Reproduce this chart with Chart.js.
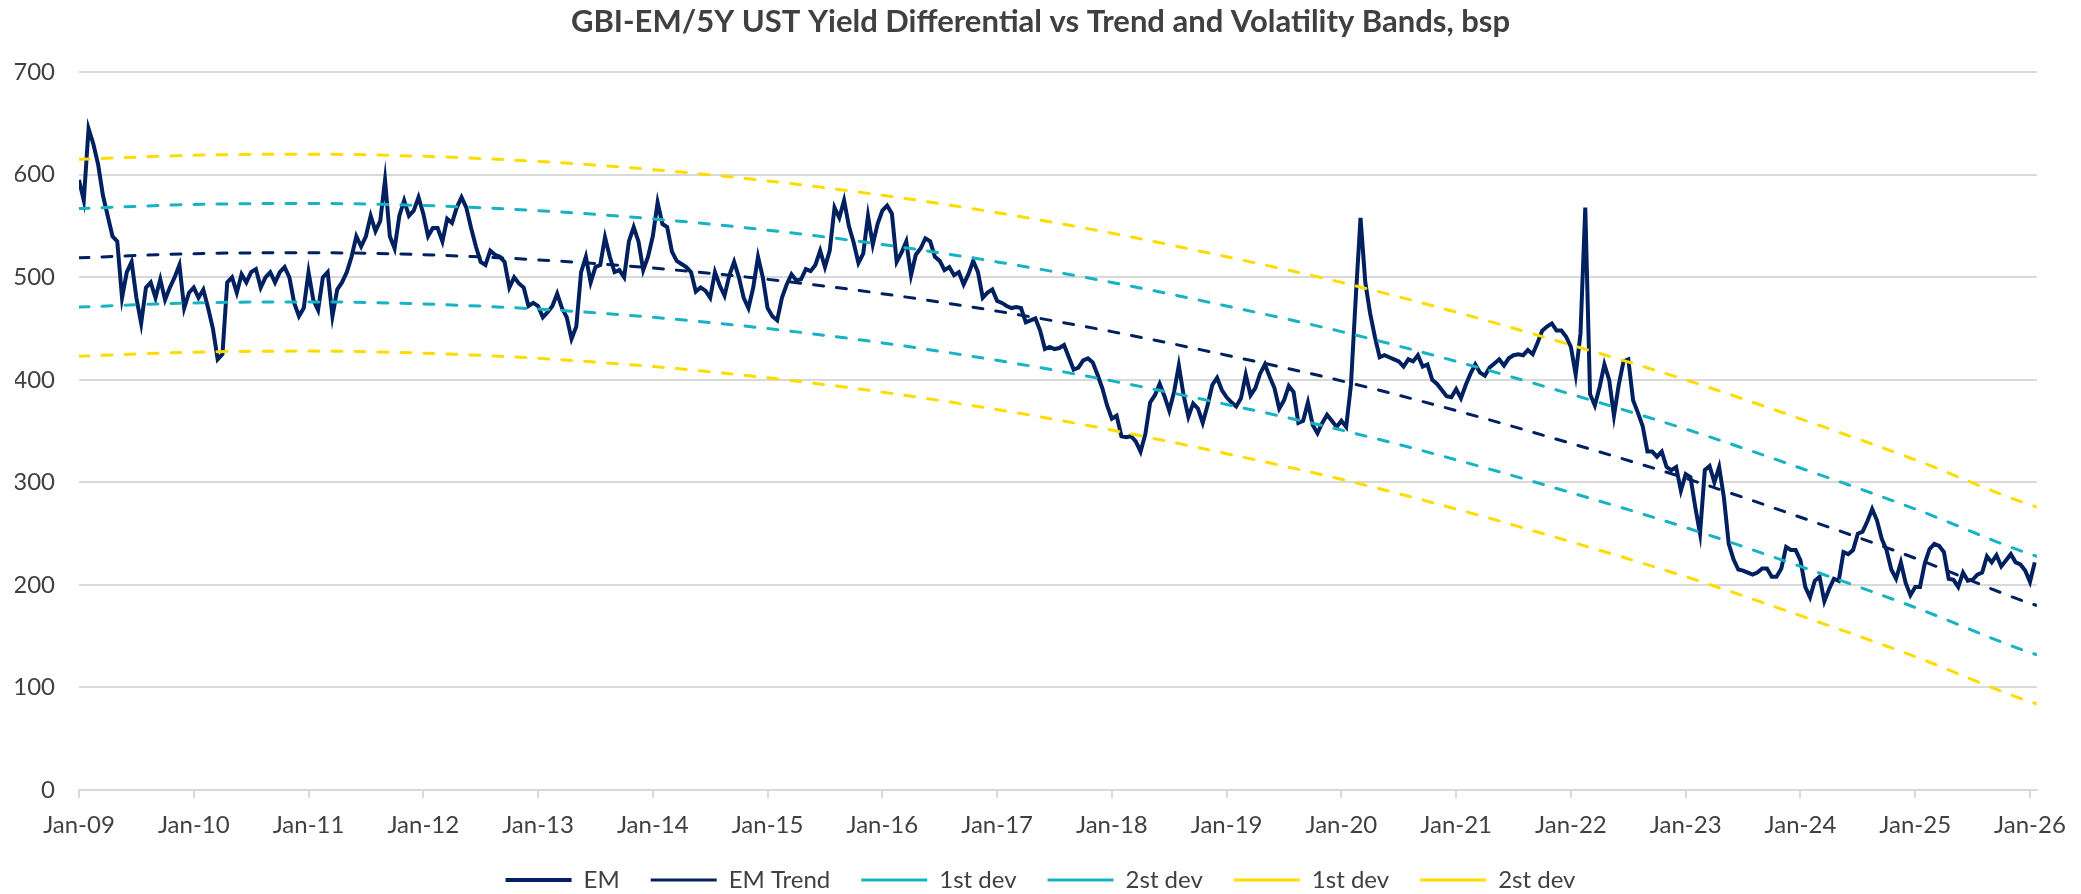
<!DOCTYPE html>
<html>
<head>
<meta charset="utf-8">
<title>GBI-EM/5Y UST Yield Differential</title>
<script src="https://cdn.jsdelivr.net/npm/chart.js@4.4.1/dist/chart.umd.min.js"></script>
<style>
  html, body { margin: 0; padding: 0; background: #ffffff; }
  #wrap { width: 2081px; height: 894px; }
</style>
</head>
<body>
<div id="wrap"><canvas id="grafico"></canvas></div>
<script>
// EM spread in bsp, one reading every half month starting Jan-09
const emStart = 2009;
const emValues = [
  595, 575, 645, 630, 610, 580, 560, 540, 535, 480, 505, 515, 480, 455, 490, 495, 480, 498, 478, 490, 500, 512, 470, 485,
  490, 480, 488, 470, 450, 420, 425, 495, 500, 485, 503, 495, 505, 508, 490, 500, 505, 495, 505, 510, 500, 475, 462, 470,
  505, 478, 468, 500, 505, 462, 488, 495, 505, 520, 540, 530, 540, 560, 545, 555, 595, 540, 528, 560, 575, 560, 565, 578,
  562, 540, 548, 548, 535, 557, 553, 568, 578, 568, 548, 530, 515, 512, 526, 522, 520, 515, 490, 500, 494, 490, 472, 475,
  472, 461, 466, 472, 484, 470, 461, 440, 452, 505, 520, 495, 510, 512, 539, 520, 505, 507, 500, 535, 549, 535, 507, 520,
  540, 573, 552, 549, 525, 516, 513, 510, 505, 486, 490, 487, 480, 505, 492, 482, 502, 515, 500, 480, 470, 490, 520, 500,
  470, 462, 458, 480, 493, 503, 497, 498, 508, 506, 512, 526, 510, 526, 568, 558, 575, 550, 534, 514, 523, 560, 532, 552,
  565, 570, 562, 515, 524, 535, 502, 522, 528, 538, 535, 520, 516, 507, 510, 502, 505, 493, 503, 516, 505, 480, 485, 488,
  477, 475, 472, 470, 471, 470, 456, 458, 460, 448, 430, 432, 430, 431, 434, 422, 410, 412, 419, 421, 417, 405, 392, 375,
  362, 365, 345, 344, 345, 340, 330, 347, 378, 385, 396, 384, 370, 388, 414, 385, 364, 377, 372, 358, 375, 395, 402, 390,
  383, 378, 374, 382, 405, 385, 392, 406, 415, 403, 392, 372, 380, 394, 388, 358, 360, 378, 356, 348, 358, 366, 360, 354,
  360, 354, 395, 480, 558, 495, 465, 442, 422, 424, 422, 420, 418, 413, 420, 418, 424, 413, 415, 400, 396, 390, 384, 383,
  391, 382, 395, 406, 415, 407, 404, 412, 416, 420, 414, 421, 424, 425, 424, 429, 425, 436, 448, 452, 455, 448, 448, 442,
  432, 405, 445, 568, 386, 375, 393, 415, 400, 365, 395, 418, 420, 380, 368, 355, 330, 330, 325, 330, 315, 312, 315, 292,
  308, 305, 276, 250, 312, 316, 300, 315, 285, 240, 225, 215, 214, 212, 210, 212, 216, 216, 208, 208, 216, 237, 234, 234,
  224, 198, 188, 204, 208, 184, 196, 206, 204, 232, 230, 234, 250, 252, 262, 274, 263, 245, 234, 215, 206, 222, 202, 190,
  198, 198, 221, 235, 240, 238, 232, 206, 205, 198, 212, 204, 205, 210, 212, 228, 222, 229, 218, 224, 230, 222, 220, 214,
  203, 222
];

// trend and bands, read at each January (last point = right edge)
const bandYears  = [2009, 2010, 2011, 2012, 2013, 2014, 2015, 2016, 2017, 2018, 2019, 2020, 2021, 2022, 2023, 2024, 2025, 2026, 2026.06];
const emTrend    = [519, 523, 524, 522, 517, 509, 498, 484, 467, 447, 424, 399, 370, 338, 304, 266, 226, 182, 180];
const tealUpper  = [567, 571, 572, 570, 565, 557, 546, 532, 515, 495, 472, 447, 418, 386, 352, 314, 274, 230, 228];
const tealLower  = [471, 475, 476, 474, 469, 461, 450, 436, 419, 399, 376, 351, 322, 290, 256, 218, 178, 134, 132];
const yellowUpper = [615, 619, 620, 618, 613, 605, 594, 580, 563, 543, 520, 495, 466, 434, 400, 362, 322, 278, 276];
const yellowLower = [423, 427, 428, 426, 421, 413, 402, 388, 371, 351, 328, 303, 274, 242, 208, 170, 130, 86, 84];

const tickYears  = [2009, 2010, 2011, 2012, 2013, 2014, 2015, 2016, 2017, 2018, 2019, 2020, 2021, 2022, 2023, 2024, 2025, 2026];
const tickLabels = ["Jan-09", "Jan-10", "Jan-11", "Jan-12", "Jan-13", "Jan-14", "Jan-15", "Jan-16", "Jan-17",
                    "Jan-18", "Jan-19", "Jan-20", "Jan-21", "Jan-22", "Jan-23", "Jan-24", "Jan-25", "Jan-26"];

const navy = "#002060";
const teal = "#19B2C4";
const yellow = "#FFDC00";
const grey = "#404040";
const dash = [10, 13];

function puntos(xs, ys) {
    return ys.map((v, i) => ({ x: xs[i], y: v }));
}

const emPuntos = emValues.map((v, i) => ({ x: emStart + i / 24, y: v }));

function banda(label, valores, color) {
    return {
        label: label,
        data: puntos(bandYears, valores),
        borderColor: color,
        backgroundColor: color,
        borderWidth: 3,
        borderDash: dash,
        borderCapStyle: "round",
        cubicInterpolationMode: "monotone",
        order: 0
    };
}

Chart.defaults.font.family = "Lato, 'Open Sans', sans-serif";
Chart.defaults.color = grey;

const ctx = document.getElementById("grafico").getContext("2d");

new Chart(ctx, {
    type: "line",
    data: {
        datasets: [
            {
                label: "EM",
                data: emPuntos,
                borderColor: navy,
                backgroundColor: navy,
                borderWidth: 4,
                borderDash: [],
                tension: 0,
                order: 1
            },
            banda("EM Trend", emTrend, navy),
            banda("1st dev", tealUpper, teal),
            banda("2st dev", tealLower, teal),
            banda("1st dev", yellowUpper, yellow),
            banda("2st dev", yellowLower, yellow)
        ]
    },
    options: {
        responsive: true,
        maintainAspectRatio: false,
        animation: false,
        devicePixelRatio: 1,
        layout: { padding: { left: 15, right: 15, top: 0, bottom: -8 } },
        elements: { point: { radius: 0 } },
        plugins: {
            title: {
                display: true,
                text: "GBI-EM/5Y UST Yield Differential vs Trend and Volatility Bands, bsp",
                color: grey,
                font: { size: 31, weight: "bold" },
                padding: { top: 3, bottom: 32 }
            },
            legend: {
                position: "bottom",
                labels: {
                    usePointStyle: true,
                    pointStyle: "line",
                    pointStyleWidth: 66,
                    color: grey,
                    font: { size: 24 },
                    padding: 31,
                    sort: (a, b) => a.datasetIndex - b.datasetIndex
                }
            },
            tooltip: { enabled: false }
        },
        scales: {
            x: {
                type: "linear",
                min: 2009,
                max: 2026.06,
                afterBuildTicks: axis => {
                    axis.ticks = tickYears.map(v => ({ value: v }));
                },
                afterFit: axis => {
                    axis.height = 47;
                },
                ticks: {
                    autoSkip: false,
                    maxRotation: 0,
                    padding: 15,
                    color: grey,
                    font: { size: 24, lineHeight: 1 },
                    callback: (value, index) => tickLabels[index]
                },
                grid: {
                    drawOnChartArea: false,
                    drawTicks: true,
                    tickLength: 8,
                    color: "#d9d9d9",
                    lineWidth: 2
                },
                border: { display: true, color: "#d9d9d9", width: 2 }
            },
            y: {
                min: 0,
                max: 700,
                afterFit: axis => {
                    axis.width = 64;
                },
                ticks: {
                    stepSize: 100,
                    padding: 24,
                    color: grey,
                    font: { size: 24 }
                },
                grid: {
                    color: "#d9d9d9",
                    lineWidth: 2,
                    drawTicks: false
                },
                border: { display: false }
            },
            // empty right-hand margin so the plot sits where it does in the original
            margen: {
                type: "linear",
                position: "right",
                afterFit: axis => {
                    axis.width = 29;
                },
                ticks: { display: false },
                grid: { display: false },
                border: { display: false }
            }
        }
    }
});
</script>
</body>
</html>
